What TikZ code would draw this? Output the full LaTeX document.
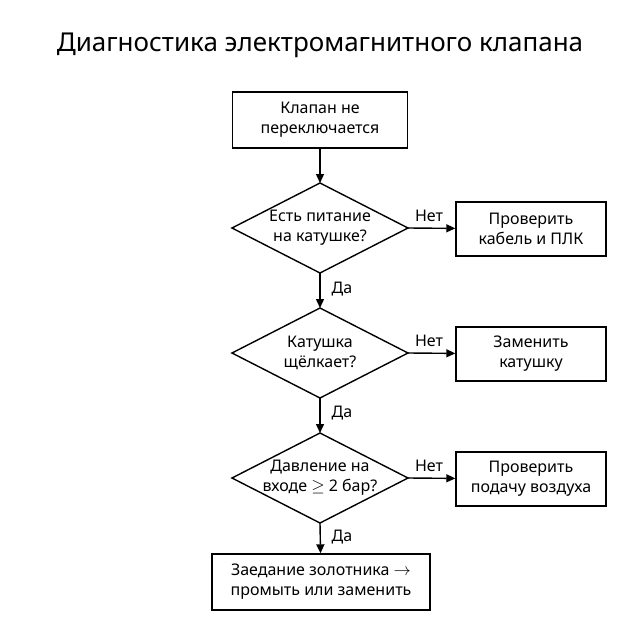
\documentclass[tikz,border=0pt]{standalone}
\usepackage{fontspec}
\setmainfont{Noto Sans}
\usetikzlibrary{shapes.geometric,arrows.meta}
\begin{document}
\begin{tikzpicture}[x=1pt,y=-1pt,
 box/.style={draw,line width=1.4pt,minimum height=56pt,align=center,font=\fontsize{16}{20}\selectfont},
 dtxt/.style={align=center,font=\fontsize{16}{20}\selectfont},
 dia/.style={line width=1.4pt},
 arr/.style={line width=1.4pt,-{Triangle[length=9pt,width=8pt]}},
 lab/.style={font=\fontsize{16}{18}\selectfont}]
\useasboundingbox (0,0) rectangle (640,640);
\node[font=\fontsize{26}{30}\selectfont] (t) at (320,45) {Диагностика электромагнитного клапана};
\node[box,minimum width=175pt] (a) at (320,120) {Клапан не\\переключается};
\foreach \n/\y in {1/228,2/353,3/478}{
  \coordinate (n\n) at (320,\y-45); \coordinate (s\n) at (320,\y+45);
  \coordinate (e\n) at (408,\y); \coordinate (w\n) at (232,\y);
  \draw[dia] (n\n) -- (e\n) -- (s\n) -- (w\n) -- cycle;
}
\node[dtxt] (d1) at (320,228) {Есть питание\\на катушке?};
\node[dtxt] (d2) at (320,353) {Катушка\\щёлкает?};
\node[dtxt] (d3) at (320,478) {Давление на\\входе $\geq$ 2 бар?};
\node[box,minimum width=150pt,minimum height=54pt] (r1) at (531,229) {Проверить\\кабель и ПЛК};
\node[box,minimum width=150pt,minimum height=54pt] (r2) at (531,354) {Заменить\\катушку};
\node[box,minimum width=150pt,minimum height=54pt] (r3) at (531,479) {Проверить\\подачу воздуха};
\node[box,minimum width=218pt] (f) at (321,582) {Заедание золотника $\rightarrow$\\промыть или заменить};
\draw[arr] (a) -- (n1);
\draw[arr] (s1) -- (n2);
\draw[arr] (s2) -- (n3);
\draw[arr] (s3) -- (f);
\node[lab] (y1) at (342,289) {Да};
\node[lab] (y2) at (342,413) {Да};
\node[lab] (y3) at (342,537) {Да};
\draw[arr] (e1) -- (r1);
\draw[arr] (e2) -- (r2);
\draw[arr] (e3) -- (r3);
\node[lab] (m1) at (429,216) {Нет};
\node[lab] (m2) at (429,341) {Нет};
\node[lab] (m3) at (429,466) {Нет};
\end{tikzpicture}
\end{document}
